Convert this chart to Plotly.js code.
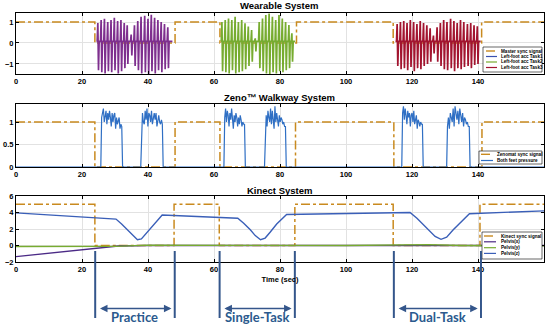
<!DOCTYPE html>
<html>
<head>
<meta charset="utf-8">
<script src="https://cdn.plot.ly/plotly-3.0.1.min.js"></script>
<style>html,body{margin:0;padding:0;background:#fff;}#chart{width:550px;height:324px;}</style>
</head>
<body>
<div id="chart"></div>
<script>
// ---------- DATA ----------
// Panel 1: Wearable system
const wearSyncT = [0, 23.9, 48.2, 61.8, 85.0, 114.3, 141.1, 160];
const wearSyncV = [1, 0, 1, 0, 1, 0, 1, 1];

const acc1Span = [24.4, 47.4];
const acc1T  = [24.9, 25.9, 26.9, 27.9, 28.9, 29.9, 30.9, 31.9, 32.9, 33.8, 35.0, 36.0, 37.0, 38.0, 39.1, 40.1, 41.1, 42.1, 43.1, 44.1, 45.1, 46.1];
const acc1Hi = [0.95, 1.1, 1.15, 1.0, 1.1, 1.2, 1.05, 1.1, 0.95, 0.85, 0.4, 0.85, 1.05, 1.25, 1.3, 1.15, 1.35, 1.2, 1.1, 1.0, 0.9, 0.75];
const acc1Lo = [-1.3, -1.4, -1.45, -1.35, -1.4, -1.3, -1.45, -1.35, -1.2, -1.0, -0.6, -1.1, -1.3, -1.45, -1.4, -1.5, -1.35, -1.45, -1.3, -1.4, -1.25, -1.2];

const acc2Span = [62.1, 84.6];
const acc2T  = [62.5, 63.5, 64.5, 65.5, 66.5, 67.5, 68.5, 69.5, 70.5, 71.5, 72.6, 73.8, 74.8, 75.8, 76.8, 77.8, 78.8, 79.8, 80.8, 81.8, 82.8, 83.7];
const acc2Hi = [1.0, 1.1, 1.17, 1.1, 1.25, 1.0, 1.1, 0.94, 0.78, 0.62, 0.22, 1.0, 1.17, 1.33, 1.41, 1.25, 1.1, 1.33, 1.17, 1.0, 0.86, 0.46];
const acc2Lo = [-1.35, -1.4, -1.45, -1.3, -1.45, -1.4, -1.35, -1.25, -1.1, -0.9, -0.4, -1.2, -1.35, -1.45, -1.5, -1.4, -1.45, -1.35, -1.4, -1.3, -1.2, -0.9];

const acc3Span = [115.0, 140.8];
const acc3T  = [115.6, 116.6, 117.6, 118.6, 119.6, 120.6, 121.6, 122.6, 123.6, 124.6, 125.6, 126.6, 127.7, 128.7, 129.7, 130.7, 131.8, 132.8, 133.8, 134.8, 135.8, 136.9, 137.9, 138.9, 139.9];
const acc3Hi = [0.9, 1.0, 1.05, 0.95, 1.1, 1.0, 0.9, 1.05, 0.95, 0.85, 0.7, 0.35, 0.75, 0.95, 1.1, 1.0, 1.15, 1.05, 0.95, 1.1, 1.0, 0.9, 0.95, 0.85, 0.8];
const acc3Lo = [-1.1, -1.25, -1.2, -1.3, -1.15, -1.35, -1.2, -1.25, -1.1, -1.0, -0.9, -0.5, -0.9, -1.1, -1.25, -1.3, -1.2, -1.35, -1.2, -1.25, -1.15, -1.1, -1.2, -1.05, -1.0];
const accBase = 0.08;

// Panel 2: Zeno walkway
const zenoSyncT = [0, 23.9, 48.2, 61.8, 84.7, 114.5, 141.2, 160];
const zenoSyncV = [1, 0, 1, 0, 1, 0, 1, 1];
const presStart = [25.7, 37.8, 63.0, 75.3, 116.9, 130.5];
const presEnd   = [32.3, 44.6, 69.5, 81.9, 123.4, 137.6];
const presVals = [
  [1.1, 1.25, 1.3, 1.0, 1.2, 1.25, 0.95, 1.2, 1.05, 1.25, 1.1, 0.9, 1.2, 1.0, 1.15, 1.2, 0.85, 1.1, 0.95, 1.05, 1.1, 0.85, 0.95, 0.9],
  [0.95, 1.2, 1.0, 0.95, 1.25, 1.05, 1.3, 0.9, 1.2, 1.15, 1.0, 1.25, 0.95, 1.15, 1.2, 1.05, 1.2, 0.9, 1.1, 1.15, 1.0, 0.95, 1.05, 0.95],
  [1.1, 1.3, 1.0, 1.25, 1.15, 0.9, 1.2, 1.05, 1.3, 1.1, 0.85, 1.15, 1.0, 1.2, 1.1, 0.9, 1.1, 0.95, 1.15, 1.05, 0.9, 1.0, 0.95, 0.95],
  [0.95, 1.15, 0.9, 1.25, 1.1, 1.0, 1.3, 0.95, 1.25, 1.1, 0.85, 1.35, 1.0, 1.2, 1.05, 0.9, 1.15, 1.0, 1.1, 1.05, 0.95, 1.0, 0.9, 0.9],
  [1.2, 1.35, 1.05, 1.3, 1.15, 0.95, 1.25, 1.1, 1.2, 0.9, 1.15, 1.2, 1.0, 1.25, 0.95, 1.1, 1.15, 0.85, 1.05, 1.0, 0.9, 1.0, 0.95, 0.95],
  [0.9, 1.1, 0.85, 1.2, 1.05, 1.0, 1.3, 0.9, 1.35, 1.1, 1.05, 1.25, 0.95, 1.3, 1.15, 1.0, 1.2, 0.9, 1.1, 1.05, 0.95, 1.0, 0.9, 0.9]
];

// Panel 3: Kinect
const kinSyncT = [0, 23.9, 47.9, 61.6, 84.5, 114.3, 140.6, 160];
const kinSyncV = [5, 0, 5, 0, 5, 0, 5, 5];
const pelvZT = [0, 30.3, 32, 34, 35.5, 36.8, 38, 39.5, 41.5, 44.3, 67.2, 69, 71, 72.5, 74.1, 75.5, 77, 79, 82, 119.4, 121.5, 123.5, 125.5, 127, 128.8, 130.5, 132.5, 135, 137.4, 160];
const pelvZV = [3.95, 3.2, 2.6, 1.8, 1.1, 0.7, 0.8, 1.5, 2.5, 3.7, 3.3, 2.7, 1.9, 1.2, 0.7, 0.9, 1.6, 2.6, 3.75, 4.0, 3.3, 2.5, 1.7, 1.1, 0.75, 1.0, 1.9, 2.9, 3.85, 4.2];
const pelvXT = [0, 15, 31, 40, 160];
const pelvXV = [-1.35, -0.72, -0.06, 0, 0];
const pelvYT = [0, 30, 40, 70, 80, 100, 125, 135, 160];
const pelvYV = [-0.12, -0.1, 0.05, 0.0, 0.05, 0.0, 0.1, 0.0, -0.05];

// Phases
const phaseBounds = [24.0, 48.1, 61.7, 84.5, 114.5, 140.9];
const phaseLabels = ['Practice', 'Single-Task', 'Dual-Task'];

// Text
const panelTitles = ['Wearable System', 'Zeno\u2122 Walkway System', 'Kinect System'];
const legNames1 = ['Master sync signal', 'Left-foot acc Task1', 'Left-foot acc Task2', 'Left-foot acc Task3'];
const legNames2 = ['Zenomat sync signal', 'Both feet pressure'];
const legNames3 = ['Kinect sync signal', 'Pelvis(x)', 'Pelvis(y)', 'Pelvis(z)'];

// ---------- STYLE ----------
const C = {
  sync: '#c98a1f', t1: '#7e2f8e', t2: '#77ac30', t3: '#a2142f',
  pres: '#2f6fc4', pz: '#3a5fb8', px: '#4b2a86', py: '#77ac30',
  phase: '#34568b', phaseText: '#2b5a8e'
};
const W = 550, H = 324;
const PX = v => v / W, PY = v => 1 - v / H;

function accWave(t, hi, lo, span, base) {
  const xs = [span[0]], ys = [base];
  for (let i = 0; i < t.length; i++) {
    xs.push(t[i] - 0.3, t[i] - 0.1, t[i] + 0.1, t[i] + 0.3);
    ys.push(base, hi[i], lo[i], base);
  }
  xs.push(span[1]); ys.push(base);
  return {x: xs, y: ys};
}
function presWave() {
  const xs = [0], ys = [0];
  for (let b = 0; b < presStart.length; b++) {
    const s = presStart[b], e = presEnd[b], v = presVals[b];
    xs.push(s); ys.push(0);
    const n = v.length;
    for (let i = 0; i < n; i++) {
      xs.push(s + 0.25 + i * (e - s - 0.5) / (n - 1));
      ys.push(v[i]);
    }
    xs.push(e); ys.push(0);
  }
  xs.push(160); ys.push(0);
  return {x: xs, y: ys};
}

const a1 = accWave(acc1T, acc1Hi, acc1Lo, acc1Span, accBase);
const a2 = accWave(acc2T, acc2Hi, acc2Lo, acc2Span, accBase);
const a3 = accWave(acc3T, acc3Hi, acc3Lo, acc3Span, accBase);
const pw = presWave();

const syncLine = {color: C.sync, width: 1.5, dash: 'dashdot', shape: 'hv'};
const traces = [
  {x: wearSyncT, y: wearSyncV, xaxis: 'x', yaxis: 'y', mode: 'lines', line: syncLine},
  {x: a1.x, y: a1.y, xaxis: 'x', yaxis: 'y', mode: 'lines', line: {color: C.t1, width: 1.7}},
  {x: a2.x, y: a2.y, xaxis: 'x', yaxis: 'y', mode: 'lines', line: {color: C.t2, width: 1.7}},
  {x: a3.x, y: a3.y, xaxis: 'x', yaxis: 'y', mode: 'lines', line: {color: C.t3, width: 1.7}},
  {x: zenoSyncT, y: zenoSyncV, xaxis: 'x2', yaxis: 'y2', mode: 'lines', line: syncLine},
  {x: pw.x, y: pw.y, xaxis: 'x2', yaxis: 'y2', mode: 'lines', line: {color: C.pres, width: 1.2}},
  {x: kinSyncT, y: kinSyncV, xaxis: 'x3', yaxis: 'y3', mode: 'lines', line: syncLine},
  {x: pelvXT, y: pelvXV, xaxis: 'x3', yaxis: 'y3', mode: 'lines', line: {color: C.px, width: 1.3}},
  {x: pelvYT, y: pelvYV, xaxis: 'x3', yaxis: 'y3', mode: 'lines', line: {color: C.py, width: 1.3}},
  {x: pelvZT, y: pelvZV, xaxis: 'x3', yaxis: 'y3', mode: 'lines', line: {color: C.pz, width: 1.4}}
];
traces.forEach(t => { t.showlegend = false; t.hoverinfo = 'skip'; });

const tickfont = {family: 'Liberation Sans, Arial, sans-serif', size: 7.5, color: '#000', weight: 'bold'};
function xax(anchor) {
  return {domain: [PX(16), PX(544)], anchor: anchor, range: [0, 160], dtick: 20, tick0: 0,
    showline: true, linecolor: '#000', linewidth: 1, mirror: 'ticks', ticks: 'inside', ticklen: 3,
    tickcolor: '#000', showgrid: true, gridcolor: '#e2e2e2', zeroline: false, tickfont: tickfont, fixedrange: true};
}
function yax(anchor, dom, range, tickvals) {
  return {domain: dom, anchor: anchor, range: range, tickvals: tickvals,
    showline: true, linecolor: '#000', linewidth: 1, mirror: 'ticks', ticks: 'inside', ticklen: 3,
    tickcolor: '#000', showgrid: true, gridcolor: '#e2e2e2', zeroline: false, tickfont: tickfont, fixedrange: true};
}

const shapes = [];
const annotations = [];

// Panel titles
const titleY = [6, 97, 190];
panelTitles.forEach((t, i) => annotations.push({text: t, x: PX(280), y: PY(titleY[i]), xref: 'paper', yref: 'paper',
  xanchor: 'center', yanchor: 'middle', showarrow: false,
  font: {family: 'Liberation Sans, Arial, sans-serif', size: 9.5, weight: 'bold', color: '#000'}}));

// Legends (drawn as boxes)
function legend(box, names, styles, rows, sampleX, textX) {
  shapes.push({type: 'rect', xref: 'paper', yref: 'paper', x0: PX(box[0]), x1: PX(box[1]), y0: PY(box[3]), y1: PY(box[2]),
    line: {color: '#000', width: 0.6}, fillcolor: '#fff', layer: 'above'});
  names.forEach((n, i) => {
    const st = styles[i];
    shapes.push({type: 'line', xref: 'paper', yref: 'paper', x0: PX(sampleX[0]), x1: PX(sampleX[1]),
      y0: PY(rows[i]), y1: PY(rows[i]), line: {color: st.color, width: st.width || 1.2, dash: st.dash || 'solid'}, layer: 'above'});
    annotations.push({text: n, x: PX(textX), y: PY(rows[i]), xref: 'paper', yref: 'paper', xanchor: 'left', yanchor: 'middle',
      showarrow: false, font: {family: 'Liberation Sans, Arial, sans-serif', size: 4.6, weight: 'bold', color: '#000'}});
  });
}
legend([483, 542, 47, 72], legNames1,
  [{color: C.sync, dash: 'dash', width: 1.4}, {color: '#3a50b0'}, {color: C.t2}, {color: C.t3}],
  [51, 56.5, 62, 67.5], [486, 497], 499);
legend([479, 542, 151, 164], legNames2,
  [{color: C.sync, dash: 'dash', width: 1.4}, {color: C.pres}],
  [154.3, 160.5], [481, 493], 495);
legend([482, 542, 232, 259], legNames3,
  [{color: C.sync, dash: 'dash', width: 1.4}, {color: C.px}, {color: C.py}, {color: C.pz}],
  [236, 241.8, 247.7, 253.4], [484, 496], 499);

// Phase markers
phaseBounds.forEach(b => shapes.push({type: 'line', xref: 'x3', yref: 'paper', x0: b, x1: b, y0: PY(318), y1: PY(251),
  line: {color: C.phase, width: 2}, layer: 'above'}));
phaseLabels.forEach((lab, i) => {
  const a = phaseBounds[2 * i], b = phaseBounds[2 * i + 1];
  annotations.push({text: '', x: b - 1, y: PY(308.5), xref: 'x3', yref: 'paper', ax: a + 1, axref: 'x3', ay: 0, ayref: 'pixel',
    showarrow: true, arrowside: 'end+start', arrowhead: 2, arrowsize: 1, arrowwidth: 1.5, arrowcolor: C.phase, standoff: 0, startstandoff: 0});
  annotations.push({text: lab, x: (a + b) / 2, y: PY(316.5), xref: 'x3', yref: 'paper', xanchor: 'center', yanchor: 'middle',
    showarrow: false, font: {family: 'Lato, Open Sans, sans-serif', size: 13, weight: 'bold', color: C.phaseText}});
});

const xa3 = xax('y3');
xa3.title = {text: 'Time (sec)', font: {family: 'Liberation Sans, Arial, sans-serif', size: 7.5, weight: 'bold', color: '#000'}, standoff: 3};

const layout = {
  width: W, height: H, margin: {l: 0, r: 0, t: 0, b: 0}, paper_bgcolor: '#fff', plot_bgcolor: '#fff',
  showlegend: false,
  xaxis: xax('y'), xaxis2: xax('y2'), xaxis3: xa3,
  yaxis: yax('x', [PY(74), PY(13)], [-1.48, 1.43], [-1, 0, 1]),
  yaxis2: yax('x2', [PY(167), PY(104)], [0, 1.4], [0, 0.5, 1]),
  yaxis3: yax('x3', [PY(262), PY(196)], [-2, 6], [-2, 0, 2, 4, 6]),
  shapes: shapes, annotations: annotations
};

Plotly.newPlot('chart', traces, layout, {staticPlot: true, displayModeBar: false});
</script>
</body>
</html>
